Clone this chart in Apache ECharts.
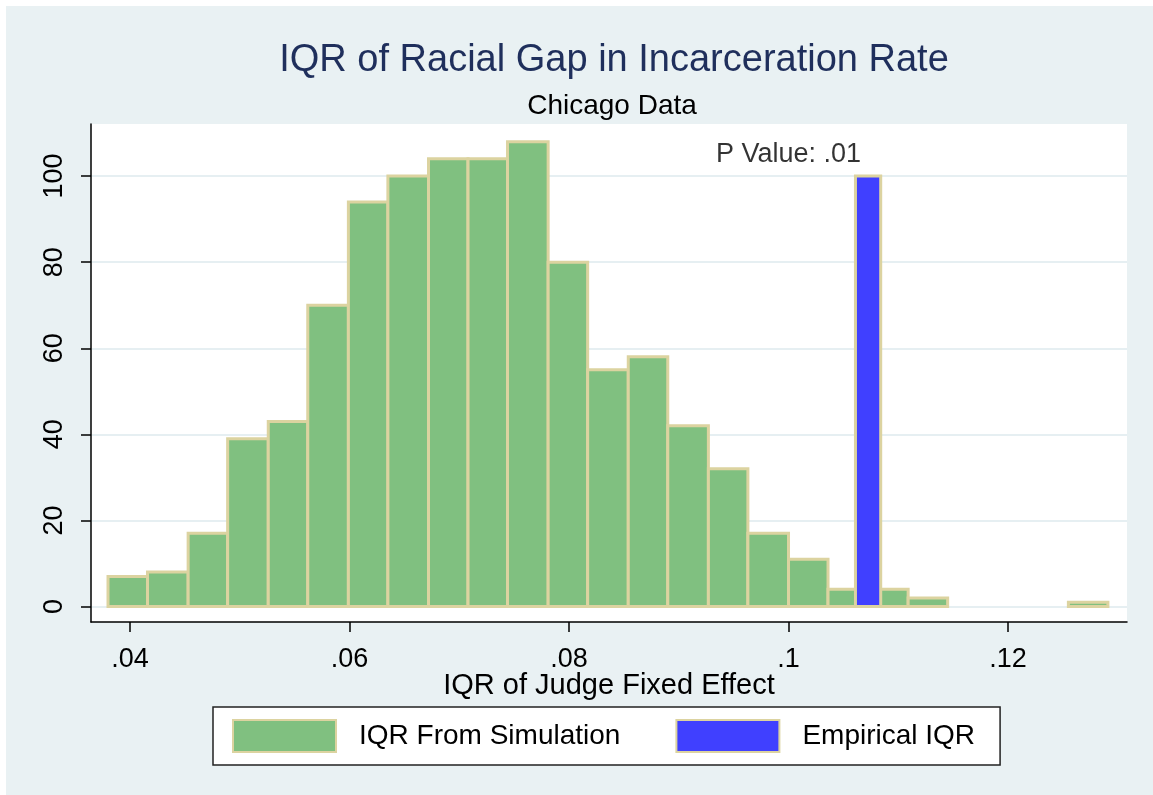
<!DOCTYPE html>
<html>
<head>
<meta charset="utf-8">
<script src="https://cdn.jsdelivr.net/npm/echarts@6/dist/echarts.min.js"></script>
<style>
    html, body { margin: 0; padding: 0; background: #fff; overflow: hidden; }
    #chart { position: absolute; left: 6px; top: 6px; width: 1147px; height: 789px; }
</style>
</head>
<body>
<div id="chart"></div>
<script>
// histogram bin edges (x = IQR of judge fixed effect)
var binEdges = [0.0380, 0.0416, 0.0453, 0.0489, 0.0526, 0.0562, 0.0599, 0.0635, 0.0672,
    0.0708, 0.0744, 0.0781, 0.0817, 0.0854, 0.0890, 0.0927, 0.0963, 0.1000, 0.1036,
    0.1072, 0.1109, 0.1145, 0.1182, 0.1218, 0.1255, 0.1291];
// simulated counts per bin
var simCounts = [7, 8, 17, 39, 43, 70, 94, 100, 104, 104, 108, 80, 55, 58, 42, 32, 17, 11, 4, 4, 2, 0, 0, 0, 1];
// empirical IQR bar [left, right, height]
var empiricalBar = [0.1061, 0.1084, 100];
var pValueLabel = 'P Value: .01';
var pValuePos = [0.1, 105];
var xTicks = [0.04, 0.06, 0.08, 0.1, 0.12];
var yTicks = [0, 20, 40, 60, 80, 100];

var font = '"Liberation Sans", Arial, sans-serif';

var simData = [];
for (var i = 0; i < simCounts.length; i++) {
    simData.push([binEdges[i], binEdges[i + 1], simCounts[i]]);
}

function renderBar(params, api) {
    if (!api.value(2)) {
        return null; // empty bins are not drawn
    }
    var p0 = api.coord([api.value(0), api.value(2)]);
    var p1 = api.coord([api.value(1), 0]);
    return {
        type: 'rect',
        shape: { x: p0[0], y: p0[1], width: p1[0] - p0[0], height: p1[1] - p0[1] },
        style: api.style()
    };
}

var myChart = echarts.init(document.getElementById('chart'));
myChart.setOption({
    backgroundColor: '#e9f1f3',
    animation: false,
    title: [{
        text: 'IQR of Racial Gap in Incarceration Rate',
        left: 603, top: 31, textAlign: 'center',
        textStyle: { fontFamily: font, fontSize: 38, fontWeight: 'normal', color: '#1f2f5c' }
    }, {
        text: 'Chicago Data',
        left: 601, top: 81, textAlign: 'center',
        textStyle: { fontFamily: font, fontSize: 28, fontWeight: 'normal', color: '#000' }
    }],
    legend: {
        data: ['IQR From Simulation', 'Empirical IQR'],
        left: 207, top: 701,
        padding: [12, 25, 12, 19],
        itemWidth: 103, itemHeight: 32, itemGap: 55,
        icon: 'rect',
        backgroundColor: '#fff',
        borderColor: '#222', borderWidth: 1.5, borderRadius: 0,
        textStyle: { fontFamily: font, fontSize: 28, color: '#000', padding: [0, 0, 0, 18] }
    },
    grid: {
        left: 85, top: 118, right: 26, bottom: 173,
        show: true, backgroundColor: '#fff', borderWidth: 0
    },
    xAxis: {
        type: 'value',
        min: 0.03645, max: 0.13084,
        name: 'IQR of Judge Fixed Effect',
        nameLocation: 'middle', nameGap: 49, nameMoveOverlap: false,
        nameTextStyle: { fontFamily: font, fontSize: 29, color: '#000' },
        axisLine: { onZero: false, lineStyle: { color: '#000', width: 1.5 } },
        axisTick: { length: 10, customValues: xTicks, lineStyle: { color: '#000', width: 1.5 } },
        axisLabel: {
            customValues: xTicks, margin: 24,
            fontFamily: font, fontSize: 27, color: '#000',
            formatter: function (v) { return String(v).replace(/^0/, ''); }
        },
        splitLine: { show: false }
    },
    yAxis: {
        type: 'value',
        min: -3.6, max: 112.1,
        axisLine: { show: true, onZero: false, lineStyle: { color: '#000', width: 1.5 } },
        axisTick: { show: true, length: 10, customValues: yTicks, lineStyle: { color: '#000', width: 1.5 } },
        axisLabel: {
            customValues: yTicks, rotate: 90, margin: 23,
            fontFamily: font, fontSize: 27, color: '#000'
        },
        splitLine: { show: true, lineStyle: { color: '#e6eff2', width: 2 } }
    },
    series: [{
        name: 'IQR From Simulation',
        type: 'custom',
        renderItem: renderBar,
        encode: { x: [0, 1], y: 2 },
        itemStyle: { color: '#80c080', borderColor: '#dcd3a0', borderWidth: 3 },
        data: simData
    }, {
        name: 'Empirical IQR',
        type: 'custom',
        renderItem: renderBar,
        encode: { x: [0, 1], y: 2 },
        itemStyle: { color: '#4040ff', borderColor: '#dcd3a0', borderWidth: 3 },
        data: [empiricalBar]
    }, {
        name: 'pvalue',
        type: 'scatter',
        symbolSize: 0,
        silent: true,
        label: {
            show: true, position: 'inside',
            formatter: pValueLabel,
            fontFamily: font, fontSize: 27, color: '#000'
        },
        data: [pValuePos]
    }]
});
</script>
</body>
</html>
